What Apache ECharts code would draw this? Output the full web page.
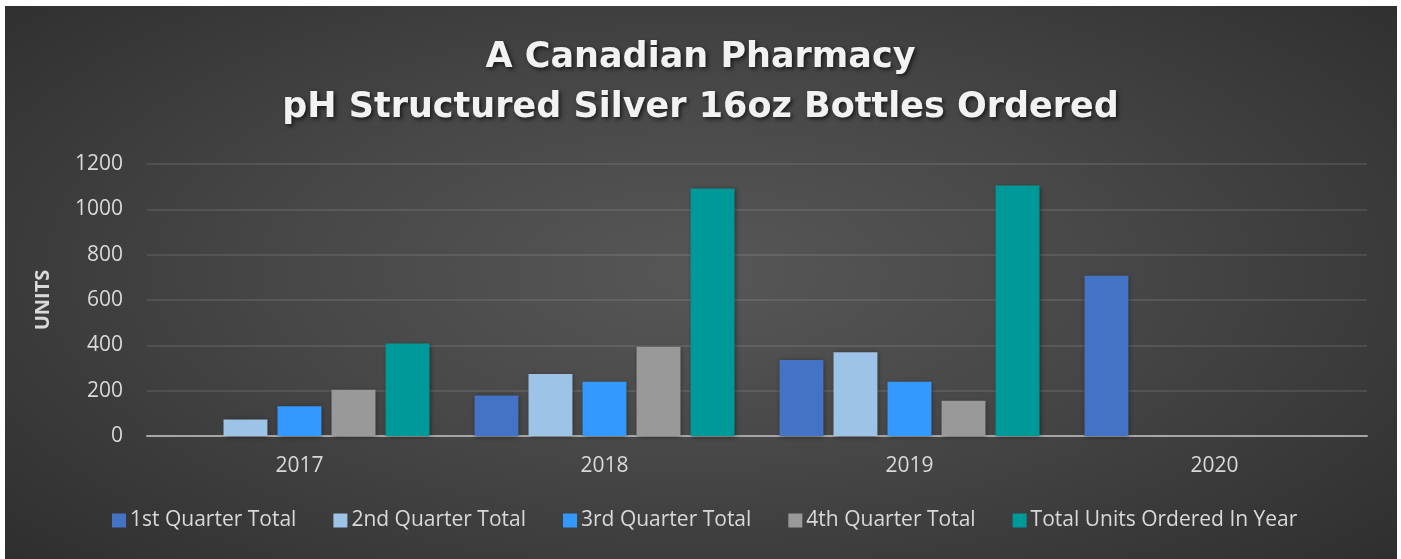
<!DOCTYPE html>
<html>
<head>
<meta charset="utf-8">
<script src="https://cdn.jsdelivr.net/npm/echarts@6/dist/echarts.min.js"></script>
<style>
  html, body { margin: 0; padding: 0; background: #ffffff; }
  #bg { position: absolute; left: 5px; top: 6px; width: 1392px; height: 553px;
        background: radial-gradient(ellipse 75% 85% at 50% 48%, #575757 0%, #474747 40%, #2a2a2a 100%); }
  #chart { position: absolute; left: 0; top: 0; width: 1401px; height: 559px; }
</style>
</head>
<body>
<div id="bg"></div>
<div id="chart"></div>
<script>
const titleLines = ['A Canadian Pharmacy', 'pH Structured Silver 16oz Bottles Ordered'];
const categories = ['2017', '2018', '2019', '2020'];
const seriesNames = ['1st Quarter Total', '2nd Quarter Total', '3rd Quarter Total', '4th Quarter Total', 'Total Units Ordered In Year'];
const q1 = [null, 179, 335, 707];
const q2 = [73, 274, 370, null];
const q3 = [131, 239, 239, null];
const q4 = [204, 394, 155, null];
const totals = [408, 1092, 1105, null];
const yTicks = { min: 0, max: 1200, interval: 200 };
const yAxisName = 'UNITS';

const colors = ['#4472C4', '#9DC3E6', '#3399FF', '#999999', '#009999'];
const values = [q1, q2, q3, q4, totals];

const chart = echarts.init(document.getElementById('chart'), null, { renderer: 'canvas' });
const textColor = '#D9D9D9';
const font = 'Open Sans';

chart.setOption({
  backgroundColor: 'transparent',
  animation: false,
  title: {
    text: titleLines.join('\n'),
    left: 'center',
    top: 28,
    textStyle: {
      color: '#F2F2F2',
      fontFamily: 'DejaVu Sans',
      fontWeight: 'bold',
      fontSize: 35,
      lineHeight: 50,
      textShadowColor: 'rgba(0,0,0,0.65)',
      textShadowBlur: 4,
      textShadowOffsetX: 2,
      textShadowOffsetY: 2
    }
  },
  legend: {
    left: 112,
    top: 510,
    padding: 0,
    itemWidth: 14,
    itemHeight: 14,
    itemGap: 37,
    icon: 'rect',
    textStyle: { color: textColor, fontFamily: font, fontSize: 21, padding: [0, 0, 0, -1] },
    data: seriesNames
  },
  grid: { left: 147, right: 34, top: 164, bottom: 123, containLabel: false },
  xAxis: {
    type: 'category',
    data: categories,
    axisLine: { lineStyle: { color: '#A6A6A6', width: 2 } },
    axisTick: { show: false },
    axisLabel: { color: textColor, fontFamily: font, fontSize: 21, margin: 20 }
  },
  yAxis: {
    type: 'value',
    min: yTicks.min,
    max: yTicks.max,
    interval: yTicks.interval,
    name: yAxisName,
    nameLocation: 'middle',
    nameGap: 94,
    nameRotate: 90,
    nameTextStyle: { color: textColor, fontFamily: font, fontWeight: 'bold', fontSize: 20 },
    axisLine: { show: false },
    axisTick: { show: false },
    axisLabel: { color: textColor, fontFamily: font, fontSize: 21, margin: 24, formatter: v => String(v) },
    splitLine: { lineStyle: { color: 'rgba(255,255,255,0.13)', width: 1.5 } }
  },
  series: seriesNames.map((name, i) => ({
    name: name,
    type: 'bar',
    data: values[i],
    barGap: '23%',
    barCategoryGap: '14.75%',
    itemStyle: {
      color: colors[i],
      shadowColor: 'rgba(0,0,0,0.45)',
      shadowBlur: 5,
      shadowOffsetX: 1,
      shadowOffsetY: 1
    }
  }))
});
</script>
</body>
</html>
